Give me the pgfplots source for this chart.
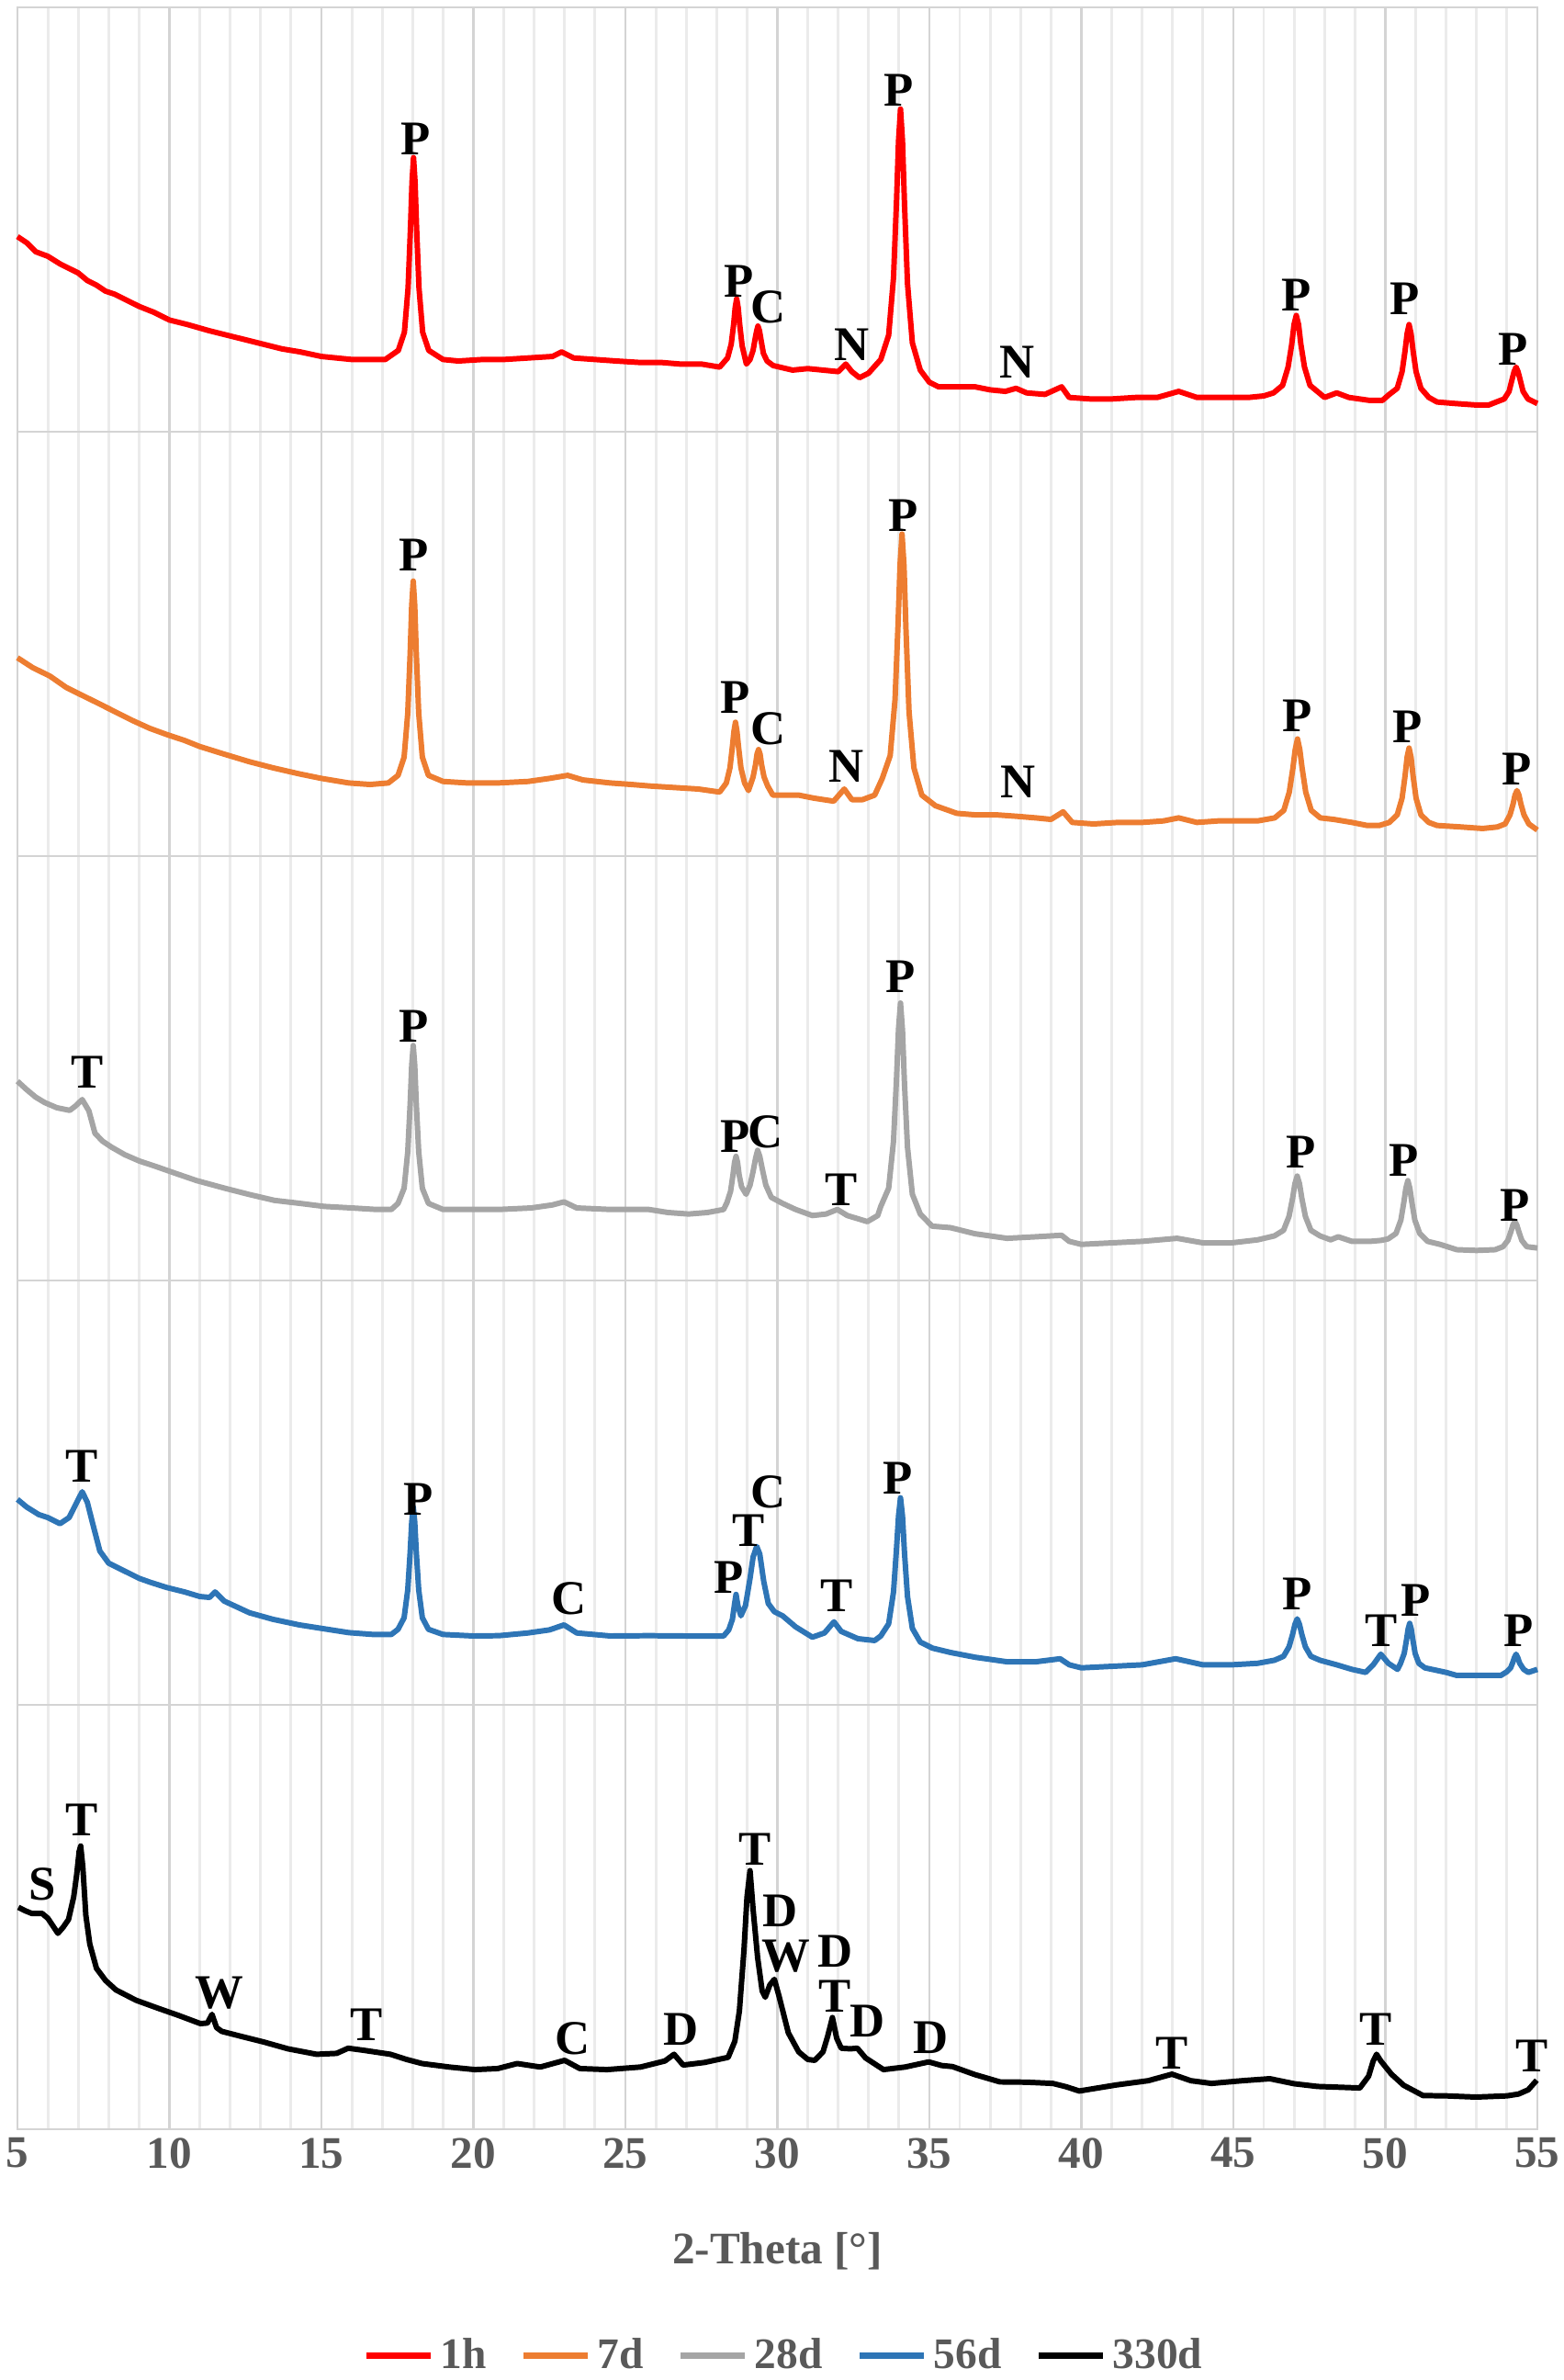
\documentclass[border=0pt]{standalone}
\usepackage{fontspec}
\setmainfont{Liberation Serif}
\usepackage{pgfplots}
\pgfplotsset{compat=1.18}
\definecolor{cred}{RGB}{255,0,0}
\definecolor{corange}{RGB}{237,125,49}
\definecolor{cgray}{RGB}{165,165,165}
\definecolor{cblue}{RGB}{46,117,182}
\definecolor{txtgray}{RGB}{89,89,89}
\tikzset{lab/.style={font=\fontsize{15}{15}\selectfont\bfseries, text=black, inner sep=0pt, anchor=center}}
\begin{document}
\begin{tikzpicture}
\useasboundingbox (-0.19,-2.73) rectangle (16.83,23.18);
\begin{axis}[scale only axis, width=16.55cm, height=23.10cm,
  xmin=5, xmax=55, ymin=5, ymax=1403, y dir=reverse, clip=false,
  xtick={5,10,...,55}, minor x tick num=4,
  ytick={284.6,564.2,843.8,1123.4}, yticklabels={},
  grid=both, major grid style={black!17, line width=0.8pt}, minor grid style={black!8, line width=0.8pt},
  axis line style={black!17, line width=0.8pt}, major tick length=0pt, minor tick length=0pt,
  tick label style={font=\fontsize{14}{14}\selectfont\bfseries, text=txtgray},
  xticklabel style={inner sep=2.5pt},
  /pgf/number format/assume math mode=true,
  xlabel={2-Theta [°]},
  xlabel style={at={(axis description cs:0.5,-0.0574)}, anchor=center, font=\fontsize{14}{14}\selectfont\bfseries, text=txtgray},
  legend columns=5,
  legend style={at={(0.5057,-0.1067)}, anchor=center, draw=none, fill=none,
    font=\fontsize{13.5}{13.5}\selectfont\bfseries, text=txtgray,
    /tikz/every even column/.append style={column sep=0.3cm}},
  legend image code/.code={\draw[#1, line width=2pt] (0cm,0cm) -- (0.7cm,0cm);},
  every axis plot/.append style={line width=1.7pt, line join=round}]
% 1h
\addplot[cred] coordinates {(5.0,156) (5.3,160) (5.6,166) (6.0,169) (6.4,174) (6.7,177) (7.0,180) (7.3,185) (7.6,188) (7.9,192) (8.2,194) (8.5,197) (9.0,202) (9.5,206) (10.0,211) (10.6,214) (11.3,218) (11.9,221) (12.5,224) (13.1,227) (13.7,230) (14.3,232) (15.0,235) (15.5,236) (16.0,237) (16.6,237) (17.1,237) (17.53,231) (17.73,219) (17.85,190) (17.93,150) (17.98,120) (18.03,104) (18.08,120) (18.13,150) (18.21,190) (18.33,219) (18.53,231) (19.0,237) (19.5,238) (20.3,237) (21.0,237) (21.8,236) (22.6,235) (22.9,232) (23.3,236) (24.0,237) (24.7,238) (25.5,239) (26.2,239) (26.8,240) (27.5,240) (28.1,242) (28.36,236) (28.48,227) (28.56,214) (28.61,203) (28.66,197) (28.71,203) (28.76,214) (28.84,228) (28.98,240) (29.1,237) (29.2,231) (29.28,222) (29.32,218) (29.36,215) (29.41,218) (29.46,224) (29.54,233) (29.66,238) (29.86,241) (30.5,244) (31.0,243) (31.5,244) (32.0,245) (32.25,240) (32.45,245) (32.7,249) (33.0,246) (33.4,237) (33.66,221) (33.82,183) (33.92,132) (33.985,93) (34.05,72) (34.115,93) (34.18,134) (34.28,187) (34.44,226) (34.7,244) (35.0,252) (35.3,255) (36.0,255) (36.5,255) (37.0,257) (37.5,258) (37.85,256) (38.2,259) (38.8,260) (39.35,255) (39.6,262) (40.3,263) (41.0,263) (41.8,262) (42.5,262) (43.2,258) (43.8,262) (44.5,262) (45.5,262) (46.0,261) (46.32,259) (46.62,254) (46.8,242) (46.92,227) (46.995,214) (47.07,208) (47.145,214) (47.22,227) (47.34,242) (47.52,254) (47.82,259) (48.0,262) (48.4,259) (48.8,262) (49.5,264) (49.9,264) (50.13,260) (50.39,256) (50.55,245) (50.65,231) (50.715,220) (50.78,214) (50.845,220) (50.91,231) (51.01,245) (51.17,256) (51.43,262) (51.7,265) (52.3,266) (53.0,267) (53.4,267) (53.65,265) (53.91,263) (54.07,258) (54.17,250) (54.235,245) (54.3,242) (54.365,245) (54.43,250) (54.53,258) (54.69,263) (55.0,266)};
\addlegendentry{1h}
% 7d
\addplot[corange] coordinates {(5.0,433.5) (5.5,440) (6.07,445.6) (6.6,453) (7.1,458) (7.71,464) (8.2,469) (8.8,475) (9.35,480) (9.9,484) (10.5,488) (11.0,492) (11.8,497) (12.63,502) (13.4,506) (14.27,510) (15.0,513) (15.9,516) (16.6,517) (17.2,516) (17.52,511) (17.72,499) (17.84,470) (17.92,430) (17.97,399) (18.02,383) (18.07,399) (18.12,430) (18.2,470) (18.32,499) (18.52,511) (19.0,515) (19.8,516) (20.8,516) (21.8,515) (22.5,513) (23.1,511) (23.6,514) (24.5,516) (25.2,517) (25.8,518) (26.6,519) (27.4,520) (28.1,522) (28.32,516) (28.44,506) (28.52,492) (28.57,482) (28.62,476) (28.67,482) (28.72,492) (28.8,506) (28.92,516) (29.05,521) (29.2,512) (29.28,504) (29.33,497) (29.38,494) (29.43,497) (29.48,504) (29.56,512) (29.68,518) (29.85,524) (30.3,524) (30.7,524) (31.2,526) (31.85,528) (32.2,520) (32.45,527) (32.8,527) (33.2,524) (33.45,513) (33.71,498) (33.87,461) (33.97,411) (34.035,372) (34.1,352) (34.165,373) (34.23,415) (34.33,469) (34.49,506) (34.75,524) (35.2,531) (35.9,536) (36.5,537) (37.2,537) (37.9,538) (38.5,539) (39.0,540) (39.4,535) (39.7,542) (40.4,543) (41.2,542) (42.0,542) (42.7,541) (43.2,539) (43.8,542) (44.5,541) (45.2,541) (45.8,541) (46.36,539) (46.66,534) (46.84,522) (46.96,506) (47.035,494) (47.11,487) (47.185,494) (47.26,506) (47.38,522) (47.56,534) (47.86,539) (48.3,540) (48.9,542) (49.4,544) (49.8,544) (50.13,542) (50.39,537) (50.55,526) (50.65,511) (50.715,499) (50.78,493) (50.845,499) (50.91,511) (51.01,526) (51.17,537) (51.43,542) (51.7,544) (52.5,545) (53.2,546) (53.68,545) (53.94,543) (54.1,537) (54.2,530) (54.265,524) (54.33,521) (54.395,524) (54.46,530) (54.56,537) (54.72,543) (55.0,547)};
\addlegendentry{7d}
% 28d
\addplot[cgray] coordinates {(5.0,712.5) (5.3,718) (5.6,723) (5.9,726.6) (6.3,730) (6.72,731.7) (6.9,729) (7.13,724.6) (7.35,732) (7.55,746.8) (7.8,752) (8.1,756) (8.53,760.9) (9.0,765) (9.6,769) (10.17,773) (10.9,778) (11.82,783) (12.6,787) (13.45,791) (14.3,793) (15.1,795) (16.0,796) (16.8,797) (17.3,797) (17.52,793) (17.72,783) (17.84,759) (17.92,727) (17.97,702) (18.02,689) (18.07,702) (18.12,727) (18.2,759) (18.32,783) (18.52,793) (19.0,797) (20.0,797) (20.84,797) (21.9,796) (22.6,794) (22.98,792) (23.4,796) (24.5,797) (25.77,797) (26.4,799) (27.08,800) (27.7,799) (28.23,797) (28.34,792.5) (28.46,785) (28.54,774) (28.59,766) (28.64,762) (28.69,766) (28.74,774) (28.82,782) (28.97,787) (29.1,781) (29.2,772) (29.285,763) (29.35,758) (29.42,762) (29.5,770) (29.62,781) (29.8,789) (30.17,793) (30.6,797) (31.15,801) (31.6,800) (31.97,797) (32.3,801) (32.96,805) (33.3,801) (33.4,795) (33.66,783) (33.82,752) (33.92,710) (33.985,678) (34.05,661) (34.115,679) (34.18,714) (34.28,756) (34.44,787) (34.7,800) (35.09,808) (35.7,809) (36.5,813) (37.55,816) (38.5,815) (39.35,814) (39.6,818) (40.0,820) (41.0,819) (42.0,818) (43.15,816) (44.0,819) (44.94,819) (45.8,817) (46.35,814.4) (46.65,810.7) (46.83,801.6) (46.95,789.4) (47.025,780) (47.1,775) (47.175,780) (47.25,789.4) (47.37,801.6) (47.55,810.7) (47.85,814.4) (48.2,817) (48.45,815) (48.9,818) (49.5,818) (49.85,817.4) (50.09,816.4) (50.35,812.8) (50.51,804) (50.61,792) (50.675,783) (50.74,778) (50.805,783) (50.87,792) (50.97,804) (51.13,812.8) (51.39,818) (51.8,820) (52.35,823.5) (53.0,824) (53.61,823.5) (53.87,821.5) (54.03,817.4) (54.13,811.6) (54.195,807.3) (54.26,805) (54.325,807.3) (54.39,811.6) (54.49,817.4) (54.65,821.5) (55.0,822.4)};
\addlegendentry{28d}
% 56d
\addplot[cblue] coordinates {(5.0,988) (5.3,993) (5.7,998) (6.0,1000) (6.4,1004) (6.7,1000) (6.95,990) (7.13,983) (7.3,990) (7.45,1002) (7.71,1022) (8.0,1030) (8.5,1035) (9.0,1040) (9.35,1042.5) (9.9,1046) (10.5,1049) (11.0,1052) (11.32,1052.6) (11.5,1049) (11.8,1055) (12.63,1062.7) (13.4,1067) (14.27,1070.7) (15.0,1073) (15.9,1075.8) (16.7,1077) (17.3,1077) (17.52,1073.6) (17.72,1066) (17.84,1047.6) (17.92,1022.4) (17.97,1003) (18.02,993) (18.07,1003) (18.12,1022.4) (18.2,1047.6) (18.32,1066) (18.52,1073.6) (19.0,1077) (20.0,1078) (20.84,1077.8) (21.8,1076) (22.5,1074) (22.98,1070.7) (23.4,1076) (24.5,1078) (25.77,1077.8) (27.0,1078) (28.23,1078) (28.4,1074) (28.52,1067) (28.59,1057) (28.64,1050.6) (28.7,1058) (28.8,1064.7) (28.95,1058) (29.1,1040) (29.2,1026) (29.32,1019) (29.42,1024) (29.55,1042) (29.7,1056.6) (29.9,1062) (30.17,1064.7) (30.6,1072) (31.15,1078.8) (31.55,1076) (31.86,1068.7) (32.1,1075) (32.65,1079.8) (33.2,1081) (33.4,1078) (33.66,1070) (33.82,1049) (33.92,1020) (33.985,999) (34.05,987) (34.115,999) (34.18,1023) (34.28,1052) (34.44,1073) (34.7,1082) (35.1,1086) (35.7,1088.9) (36.5,1092) (37.55,1095) (38.5,1095) (39.3,1093) (39.6,1097) (40.0,1099) (41.0,1098) (42.0,1097) (43.1,1093) (44.0,1097) (44.94,1097) (45.8,1096) (46.35,1094) (46.65,1091.4) (46.83,1085.2) (46.95,1076.8) (47.025,1070.4) (47.1,1066.7) (47.175,1070.4) (47.25,1076.8) (47.37,1085.2) (47.55,1091.4) (47.85,1094) (48.4,1097) (48.9,1100) (49.35,1102) (49.6,1097) (49.85,1090) (50.1,1096) (50.4,1100) (50.5,1096) (50.62,1089.5) (50.7,1080) (50.75,1073.3) (50.8,1069.7) (50.85,1073.3) (50.9,1080) (50.98,1089.5) (51.1,1096) (51.3,1099) (52.0,1102) (52.35,1104) (53.0,1104) (53.8,1104) (54.0,1101.5) (54.12,1099) (54.2,1095) (54.25,1092) (54.3,1090) (54.35,1092) (54.42,1096) (54.55,1100) (54.7,1102) (55.0,1100)};
\addlegendentry{56d}
% 330d
\addplot[black] coordinates {(5.03,1256.8) (5.25,1259) (5.47,1260.8) (5.81,1260.8) (6.0,1264) (6.2,1270) (6.33,1273.9) (6.5,1270) (6.68,1264.8) (6.85,1250) (6.95,1235) (7.03,1220) (7.08,1216.4) (7.15,1230) (7.25,1262) (7.38,1281) (7.6,1297) (7.9,1305) (8.24,1311.2) (8.9,1318) (9.63,1323.3) (10.3,1328) (11.02,1333.4) (11.25,1333) (11.4,1327.3) (11.55,1336) (11.72,1338.5) (12.4,1342) (13.1,1345.5) (13.9,1350) (14.84,1353.6) (15.5,1353) (15.88,1349.6) (16.4,1351) (17.27,1353.6) (17.8,1357) (18.31,1359.7) (19.2,1362) (20.05,1363.7) (20.8,1363) (21.44,1359.7) (22.2,1362) (23.0,1357.6) (23.5,1363) (24.39,1363.7) (25.5,1362) (26.3,1358) (26.6,1353.6) (26.9,1360.7) (27.6,1359) (28.38,1355.6) (28.6,1345) (28.75,1325) (28.9,1285) (29.0,1250) (29.1,1232.6) (29.2,1258) (29.35,1290) (29.5,1312) (29.6,1316) (29.75,1308) (29.9,1304.2) (30.05,1315) (30.36,1339.5) (30.7,1352) (31.0,1357) (31.23,1357.6) (31.5,1352) (31.65,1342) (31.81,1329.4) (31.95,1343) (32.1,1349.6) (32.4,1350) (32.63,1349.6) (32.9,1356) (33.49,1363.7) (34.2,1362) (34.98,1358.6) (35.4,1361) (35.76,1361.7) (36.5,1367) (37.32,1371.8) (38.2,1372) (39.06,1372.8) (39.5,1375) (39.93,1377.8) (41.15,1373.8) (42.2,1371) (42.98,1366.7) (43.6,1371) (44.28,1372.8) (45.3,1371) (46.2,1369.7) (47.0,1373) (47.77,1374.8) (49.16,1375.8) (49.45,1368) (49.6,1358) (49.71,1353.6) (49.85,1358) (50.2,1366.7) (50.6,1374) (51.24,1380.8) (52.0,1381) (52.98,1381.8) (54.0,1381) (54.38,1379.8) (54.7,1377) (54.98,1370.7)};
\addlegendentry{330d}
% phase labels, 1h
\node[lab] at (axis cs:18.09,91.8) {P};
\node[lab] at (axis cs:28.74,185.6) {P};
\node[lab] at (axis cs:29.7,202.7) {C};
\node[lab] at (axis cs:32.46,227) {N};
\node[lab] at (axis cs:33.99,59.5) {P};
\node[lab] at (axis cs:37.88,239) {N};
\node[lab] at (axis cs:47.08,194.7) {P};
\node[lab] at (axis cs:50.64,196.7) {P};
\node[lab] at (axis cs:54.2,230) {P};
% 7d
\node[lab] at (axis cs:18.05,366) {P};
\node[lab] at (axis cs:28.62,459.7) {P};
\node[lab] at (axis cs:29.7,480) {C};
\node[lab] at (axis cs:32.27,505) {N};
\node[lab] at (axis cs:34.14,339.7) {P};
\node[lab] at (axis cs:37.91,515.2) {N};
\node[lab] at (axis cs:47.1,471.8) {P};
\node[lab] at (axis cs:50.72,478.9) {P};
\node[lab] at (axis cs:54.33,507) {P};
% 28d
\node[lab] at (axis cs:7.3,706.4) {T};
\node[lab] at (axis cs:18.05,676.2) {P};
\node[lab] at (axis cs:28.6,748.8) {P};
\node[lab] at (axis cs:29.6,745.8) {C};
\node[lab] at (axis cs:32.1,784.1) {T};
\node[lab] at (axis cs:34.06,643.9) {P};
\node[lab] at (axis cs:47.21,758.9) {P};
\node[lab] at (axis cs:50.6,764.9) {P};
\node[lab] at (axis cs:54.26,794.2) {P};
% 56d
\node[lab] at (axis cs:7.13,965.9) {T};
\node[lab] at (axis cs:18.2,988) {P};
\node[lab] at (axis cs:23.14,1053.6) {C};
\node[lab] at (axis cs:28.4,1039.5) {P};
\node[lab] at (axis cs:29.05,1008.5) {T};
\node[lab] at (axis cs:29.7,983) {C};
\node[lab] at (axis cs:31.94,1051.6) {T};
\node[lab] at (axis cs:33.97,973.9) {P};
\node[lab] at (axis cs:47.1,1050.6) {P};
\node[lab] at (axis cs:49.87,1074.8) {T};
\node[lab] at (axis cs:51.0,1054.6) {P};
\node[lab] at (axis cs:54.38,1074.8) {P};
% 330d
\node[lab] at (axis cs:5.81,1241.6) {S};
\node[lab] at (axis cs:7.12,1199.3) {T};
\node[lab] at (axis cs:11.63,1313.2) {W};
\node[lab] at (axis cs:16.49,1334.4) {T};
\node[lab] at (axis cs:23.26,1343.5) {C};
\node[lab] at (axis cs:26.82,1337.4) {D};
\node[lab] at (axis cs:29.25,1218.4) {T};
\node[lab] at (axis cs:30.1,1259) {D};
\node[lab] at (axis cs:30.28,1289) {W};
\node[lab] at (axis cs:31.89,1286) {D};
\node[lab] at (axis cs:31.89,1315.5) {T};
\node[lab] at (axis cs:32.95,1332) {D};
\node[lab] at (axis cs:35.06,1342.5) {D};
\node[lab] at (axis cs:42.98,1352.6) {T};
\node[lab] at (axis cs:49.68,1337.4) {T};
\node[lab] at (axis cs:54.81,1354.6) {T};
\end{axis}
\end{tikzpicture}
\end{document}
